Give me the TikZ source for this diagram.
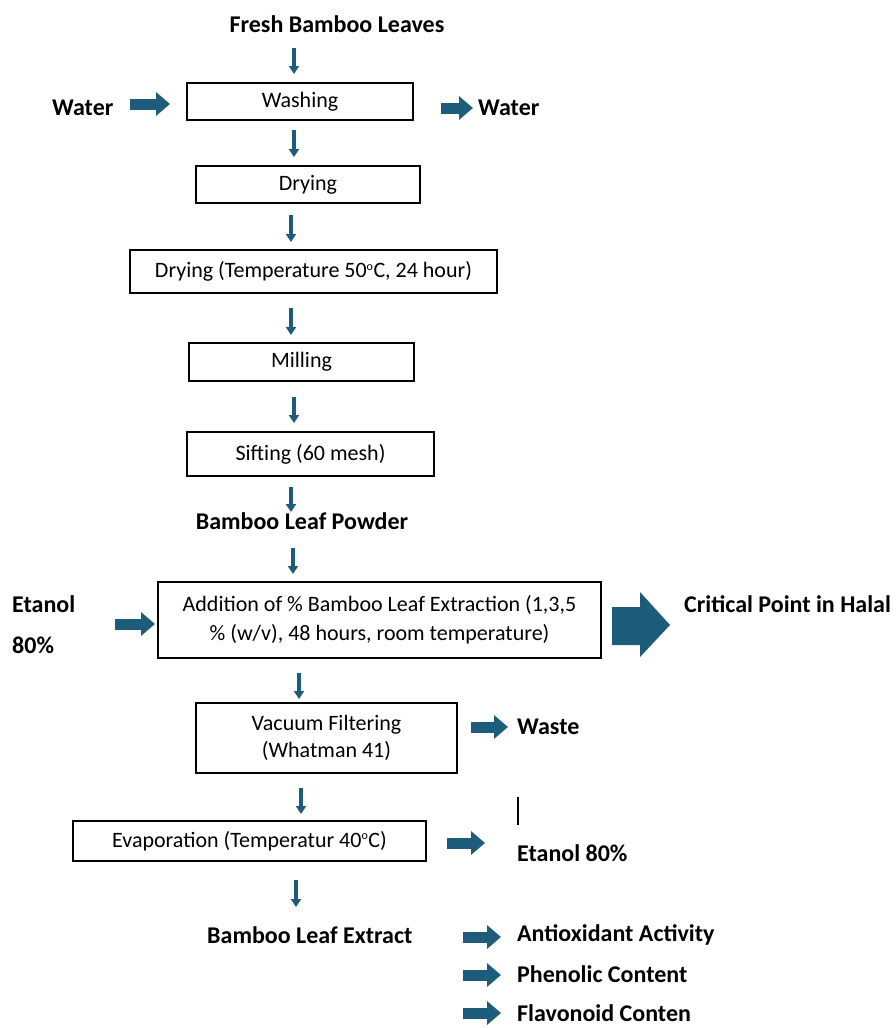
\documentclass[tikz,border=0pt]{standalone}
\usepackage{fontspec}
\setmainfont{Carlito}
\usetikzlibrary{arrows.meta}
\definecolor{arrowblue}{HTML}{1D5C7B}
\newcommand\degsup{\textsuperscript{\fontsize{12}{12}\selectfont o}}
\tikzset{
  box/.style={draw=black, line width=1.2pt, inner sep=0pt, align=center,
    font=\fontsize{22}{27}\selectfont},
  lbl/.style={inner sep=0pt, font=\bfseries\fontsize{24}{28}\selectfont},
  darrow/.style={arrowblue, line width=4pt, -{Triangle[length=8pt,width=10pt]}},
  rarrow/.style={arrowblue, line width=11pt, -{Triangle[length=14pt,width=23pt]}},
}
\begin{document}
\begin{tikzpicture}[x=1pt,y=-1pt]
\useasboundingbox (0,0) rectangle (896,1028);

% labels
\node[lbl] (fresh) at (337,24) {Fresh Bamboo Leaves};
\node[lbl, anchor=west] (waterin) at (52,108) {Water};
\node[lbl, anchor=west] (waterout) at (478,108) {Water};
\node[lbl] (powder) at (302,521) {Bamboo Leaf Powder};
\node[lbl, anchor=west] (etanol) at (12,604) {Etanol};
\node[lbl, anchor=west] (etanolb) at (12,645) {80\%};
\node[lbl, anchor=west] (critical) at (684,604) {Critical Point in Halal};
\node[lbl, anchor=west] (waste) at (517,727) {Waste};
\node[lbl, anchor=west] (etanolout) at (517,853) {Etanol 80\%};
\node[lbl, anchor=west] (extract) at (207,935) {Bamboo Leaf Extract};
\node[lbl, anchor=west] (antiox) at (517,935) {Antioxidant Activity};
\node[lbl, anchor=west] (phenol) at (517,974) {Phenolic Content};
\node[lbl, anchor=west] (flavo) at (517,1013) {Flavonoid Conten};

% boxes
\node[box, minimum width=226, minimum height=37] (wash) at (300,101.5) {Washing};
\node[box, minimum width=224, minimum height=37] (dry1) at (308,184.5) {Drying};
\node[box, minimum width=367, minimum height=43] (dry2) at (313.5,271.5) {Drying (Temperature 50\degsup C, 24 hour)};
\node[box, minimum width=225, minimum height=38] (mill) at (301.5,362) {Milling};
\node[box, minimum width=247, minimum height=44] (sift) at (310.5,454) {Sifting (60 mesh)};
\node[box, minimum width=443, minimum height=76, font=\fontsize{22}{29}\selectfont] (add) at (379.5,620) {Addition of \% Bamboo Leaf Extraction (1,3,5\\\% (w/v), 48 hours, room temperature)};
\node[box, minimum width=261, minimum height=70] (vac) at (326.5,738) {Vacuum Filtering\\(Whatman 41)};
\node[box, minimum width=353, minimum height=40] (evap) at (249.5,841) {Evaporation (Temperatur 40\degsup C)};

% down arrows
\draw[darrow] (294,48) -- (294,74);
\draw[darrow] (294,130) -- (294,157);
\draw[darrow] (291,215) -- (291,242);
\draw[darrow] (291,308) -- (291,335);
\draw[darrow] (294,397) -- (294,423);
\draw[darrow] (291,487) -- (291,512);
\draw[darrow] (293,548) -- (293,574);
\draw[darrow] (299,673) -- (299,699);
\draw[darrow] (301,788) -- (301,814);
\draw[darrow] (296,880) -- (296,907);

% right arrows
\draw[rarrow] (130,104) -- (170,104);
\draw[rarrow] (441,108) -- (473,108);
\draw[rarrow] (115,624) -- (155,624);
\draw[rarrow] (471,727) -- (508,727);
\draw[rarrow] (447,843) -- (485,843);
\draw[rarrow] (463,937) -- (501,937);
\draw[rarrow] (463,975) -- (501,975);
\draw[rarrow] (463,1013) -- (501,1013);

% big arrow
\fill[arrowblue] (612,607) -- (640,607) -- (640,592) -- (670,625) -- (640,657) -- (640,645) -- (612,645) -- cycle;

% vertical line
\draw[line width=1.5pt] (518,797) -- (518,825);
\end{tikzpicture}
\end{document}
